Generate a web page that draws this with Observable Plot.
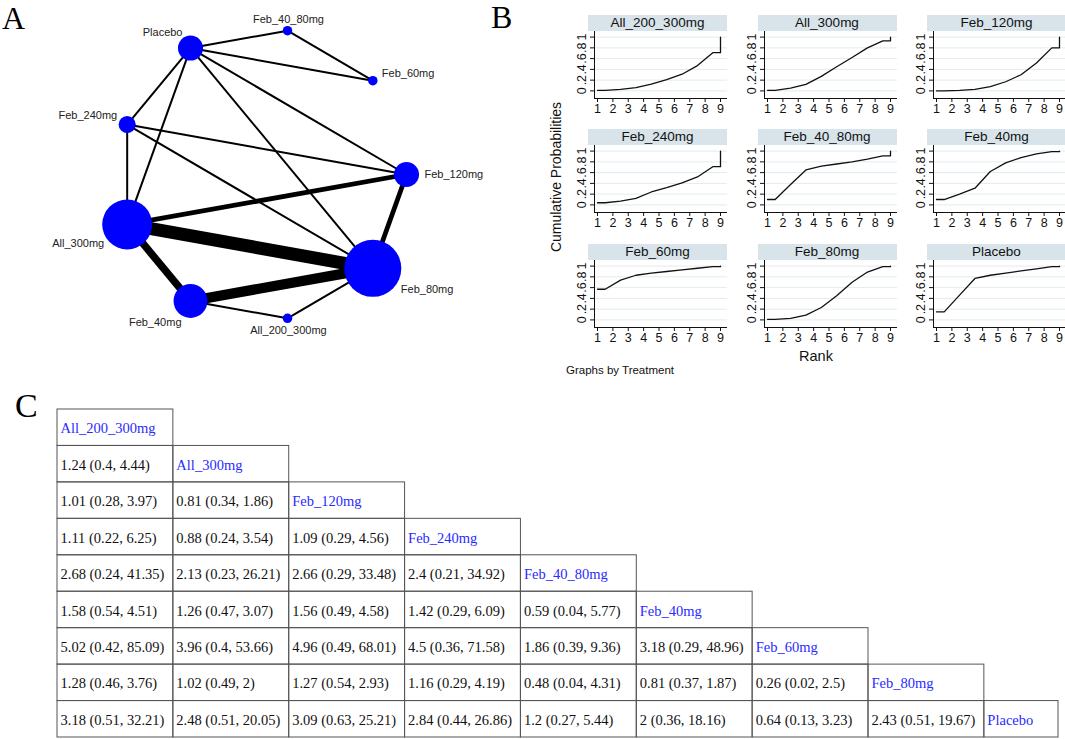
<!DOCTYPE html>
<html><head><meta charset="utf-8">
<script src="https://cdn.jsdelivr.net/npm/d3@7"></script>
<script src="https://cdn.jsdelivr.net/npm/@observablehq/plot@0.6"></script>
<style>
body{margin:0;background:#fff;}
#root{position:relative;width:1065px;height:739px;overflow:hidden;font-family:"Liberation Sans",Arial,sans-serif;background:#fff;}
.letter{position:absolute;font-family:"Liberation Serif","Times New Roman",serif;line-height:1;color:#000;}
.hdr{position:absolute;background:#d8e4ea;font-size:13.5px;text-align:center;color:#111;line-height:16px;height:16px;}
svg{overflow:visible;}
</style></head><body><div id="root"></div>
<script>
// ================= DATA =================
// Panel A: network (nodes in circular layout order)
const networkOrder = ["Feb_120mg","Feb_60mg","Feb_40_80mg","Placebo","Feb_240mg","All_300mg","Feb_40mg","All_200_300mg","Feb_80mg"];
const nodeSampleSize = [290, 42, 42, 290, 135, 1150, 530, 42, 1500];
const edgeFrom = ["Placebo","Feb_40_80mg","Placebo","Placebo","Placebo","Placebo","Placebo","Feb_240mg","Feb_240mg","Feb_240mg","All_300mg","All_300mg","All_300mg","Feb_40mg","Feb_120mg","Feb_40mg","All_200_300mg"];
const edgeTo   = ["Feb_40_80mg","Feb_60mg","Feb_60mg","Feb_240mg","All_300mg","Feb_80mg","Feb_120mg","All_300mg","Feb_120mg","Feb_80mg","Feb_120mg","Feb_80mg","Feb_40mg","Feb_80mg","Feb_80mg","All_200_300mg","Feb_80mg"];
const edgeStudies = [1,1,1,1,1,1,1,1,1,1,2,5,3,4,2,1,1];

// Panel B: cumulative rank probabilities (ranks 1..8; rank 9 = 1)
const treatments = ["All_200_300mg","All_300mg","Feb_120mg","Feb_240mg","Feb_40_80mg","Feb_40mg","Feb_60mg","Feb_80mg","Placebo"];
const cumAll_200_300mg = [0.01,0.03,0.06,0.125,0.21,0.31,0.47,0.71];
const cumAll_300mg     = [0.01,0.05,0.12,0.27,0.45,0.62,0.80,0.93];
const cumFeb_120mg     = [0.00,0.01,0.03,0.08,0.17,0.30,0.52,0.80];
const cumFeb_240mg     = [0.04,0.07,0.12,0.24,0.32,0.41,0.52,0.71];
const cumFeb_40_80mg   = [0.10,0.38,0.65,0.72,0.76,0.80,0.85,0.91];
const cumFeb_40mg      = [0.10,0.20,0.31,0.62,0.78,0.88,0.95,0.99];
const cumFeb_60mg      = [0.57,0.74,0.83,0.87,0.90,0.93,0.96,0.99];
const cumFeb_80mg      = [0.01,0.03,0.09,0.23,0.45,0.70,0.89,0.99];
const cumPlacebo       = [0.15,0.46,0.77,0.83,0.87,0.91,0.95,0.99];
const rankTicks = [1,2,3,4,5,6,7,8,9];
const probTicks = [0,0.2,0.4,0.6,0.8,1];

// Panel C: league table (lower triangle, row-major; row i compares treatment i with 0..i-1)
const leagueEst  = [1.24, 1.01,0.81, 1.11,0.88,1.09, 2.68,2.13,2.66,2.4, 1.58,1.26,1.56,1.42,0.59, 5.02,3.96,4.96,4.5,1.86,3.18, 1.28,1.02,1.27,1.16,0.48,0.81,0.26, 3.18,2.48,3.09,2.84,1.2,2,0.64,2.43];
const leagueLow  = [0.4, 0.28,0.34, 0.22,0.24,0.29, 0.24,0.23,0.29,0.21, 0.54,0.47,0.49,0.29,0.04, 0.42,0.4,0.49,0.36,0.39,0.29, 0.46,0.49,0.54,0.29,0.04,0.37,0.02, 0.51,0.51,0.63,0.44,0.27,0.36,0.13,0.51];
const leagueHigh = [4.44, 3.97,1.86, 6.25,3.54,4.56, 41.35,26.21,33.48,34.92, 4.51,3.07,4.58,6.09,5.77, 85.09,53.66,68.01,71.58,9.36,48.96, 3.76,2,2.93,4.19,4.31,1.87,2.5, 32.21,20.05,25.21,26.86,5.44,18.16,3.23,19.67];

// ================= LAYOUT =================
const root = document.getElementById("root");
function place(el, left, top){ el.style.position="absolute"; el.style.left=left+"px"; el.style.top=top+"px"; root.appendChild(el); return el; }
function letter(t, left, top, size){ const d=document.createElement("div"); d.className="letter"; d.style.fontSize=size+"px"; d.textContent=t; place(d,left,top); }
letter("A", 2, 2, 32);
letter("B", 491, 1, 32);
letter("C", 15, 389, 34);

// ---------- Panel A ----------
const nodes = networkOrder.map((name,i)=>{ const a = i*40*Math.PI/180; return {name, x: Math.cos(a), y: -Math.sin(a), n: nodeSampleSize[i]}; });
const nodeBy = new Map(nodes.map(d=>[d.name,d]));
const edges = edgeFrom.map((f,i)=>({a: nodeBy.get(f), b: nodeBy.get(edgeTo[i]), k: edgeStudies[i]}));
const widthOf = d3.scaleLinear([1,5],[2,13]);
// label placement (clock-position style offsets), in layout order
const labelPos = [
  {dx:18, dy:0, anchor:"start"},
  {dx:9, dy:-7, anchor:"start"},
  {dx:1, dy:-11, anchor:"middle"},
  {dx:-8, dy:-16, anchor:"end"},
  {dx:-10, dy:-9, anchor:"end"},
  {dx:-23, dy:19, anchor:"end"},
  {dx:-9, dy:22, anchor:"end"},
  {dx:1, dy:12, anchor:"middle"},
  {dx:28, dy:21, anchor:"start"}
];
const plotA = Plot.plot({
  width: 540, height: 350, margin: 0,
  x: {domain:[-1,1], range:[118,406], axis:null},
  y: {domain:[-1,1], range:[28,320], axis:null},
  r: {type:"sqrt", domain:[0,1500], range:[0,28.5]},
  style: {fontFamily:"'Liberation Sans', Arial, sans-serif", fontSize:"11px", background:"transparent", overflow:"visible"},
  marks: [
    Plot.link(edges, {x1: d=>d.a.x, y1: d=>d.a.y, x2: d=>d.b.x, y2: d=>d.b.y, stroke:"#000", strokeWidth: d=>widthOf(d.k), strokeLinecap:"butt"}),
    Plot.dot(nodes, {x:"x", y:"y", r:"n", fill:"#0000ff", stroke:"none"}),
    ...nodes.map((d,i)=>Plot.text([d], {x:"x", y:"y", text:"name", dx: labelPos[i].dx, dy: labelPos[i].dy, textAnchor: labelPos[i].anchor, fill:"#222", fontSize:11}))
  ]
});
place(plotA, 0, 0);

// ---------- Panel B ----------
const cums = [cumAll_200_300mg,cumAll_300mg,cumFeb_120mg,cumFeb_240mg,cumFeb_40_80mg,cumFeb_40mg,cumFeb_60mg,cumFeb_80mg,cumPlacebo];
function stepPoints(c){
  const pts=[{x:1,y:c[0]}];
  c.forEach((v,k)=>pts.push({x:k+1.5,y:v}));
  pts.push({x:9,y:c[c.length-1]});
  pts.push({x:9,y:1});
  return pts;
}
const fmtProb = d => d===0?"0":d===1?"1":String(d).replace(/^0/,"");
treatments.forEach((t,i)=>{
  const col=i%3, row=Math.floor(i/3);
  const axisX = 594 + col*169.5;
  const frameTop = 30.7 + row*114.5;
  const hdr=document.createElement("div"); hdr.className="hdr"; hdr.style.width="139px"; hdr.textContent=t;
  place(hdr, axisX-6, frameTop-16);
  const p = Plot.plot({
    width: 173, height: 89, marginLeft: 40, marginRight: 0, marginTop: 0, marginBottom: 22,
    x: {domain:[1,9], insetLeft:3, insetRight:7},
    y: {domain:[0,1], insetTop:5.6, insetBottom:7.6},
    style: {fontFamily:"'Liberation Sans', Arial, sans-serif", fontSize:"12.5px", background:"transparent", overflow:"visible", color:"#111"},
    marks: [
      Plot.gridY(probTicks, {stroke:"#e2ebef", strokeOpacity:1}),
      Plot.ruleX([1], {dx:-3, stroke:"#111"}),
      Plot.ruleY([0], {dy:7.6, stroke:"#111"}),
      Plot.axisX({ticks: rankTicks, tickSize:4, tickPadding:2, label:null, tickFormat: d=>String(d)}),
      Plot.axisY({ticks: probTicks, tickSize:4, label:null, tickFormat: ()=>""}),
      Plot.text(probTicks, {y: d=>d, text: fmtProb, frameAnchor:"left", dx:-13, rotate:-90, textAnchor:"middle", lineAnchor:"middle", fill:"#111"}),
      Plot.line(stepPoints(cums[i]), {x:"x", y:"y", stroke:"#111", strokeWidth:1.3})
    ]
  });
  place(p, axisX-40, frameTop);
});
{
  const yl=document.createElement("div"); yl.textContent="Cumulative Probabilities";
  yl.style.cssText="font-size:14px;color:#111;white-space:nowrap;transform:translate(-50%,-50%) rotate(-90deg);";
  place(yl, 556, 177);
  const xl=document.createElement("div"); xl.textContent="Rank";
  xl.style.cssText="font-size:14.5px;color:#111;white-space:nowrap;transform:translate(-50%,-50%);";
  place(xl, 816, 356);
  const nt=document.createElement("div"); nt.textContent="Graphs by Treatment";
  nt.style.cssText="font-size:11.5px;color:#111;white-space:nowrap;transform:translate(0,-50%);";
  place(nt, 566, 370);
}

// ---------- Panel C ----------
const cells=[]; let idx=0;
treatments.forEach((t,r)=>{
  for(let c=0;c<r;c++){ cells.push({row:r,col:c,text:`${leagueEst[idx]} (${leagueLow[idx]}, ${leagueHigh[idx]})`,diag:false}); idx++; }
  cells.push({row:r,col:r,text:t,diag:true});
});
const tableRight = 8.64;
const plotC = Plot.plot({
  width: 1065, height: 339, margin: 0,
  x: {domain:[0,tableRight], range:[57,1058], axis:null},
  y: {domain:[0,9], range:[9,337], axis:null},
  style: {fontFamily:"'Liberation Serif','Times New Roman',serif", fontSize:"14.5px", background:"transparent", overflow:"visible"},
  marks: [
    Plot.rect(cells, {x1: d=>d.col, x2: d=>Math.min(d.col+1, tableRight), y1: d=>d.row, y2: d=>d.row+1, fill:"none", stroke:"#555", strokeWidth:1}),
    Plot.text(cells.filter(d=>!d.diag), {x:"col", y: d=>d.row+0.5, text:"text", textAnchor:"start", dx:3, dy:1, fill:"#111"}),
    Plot.text(cells.filter(d=>d.diag), {x:"col", y: d=>d.row+0.5, text:"text", textAnchor:"start", dx:3, dy:1, fill:"#2a2aff"})
  ]
});
place(plotC, 0, 400);
</script></body></html>
